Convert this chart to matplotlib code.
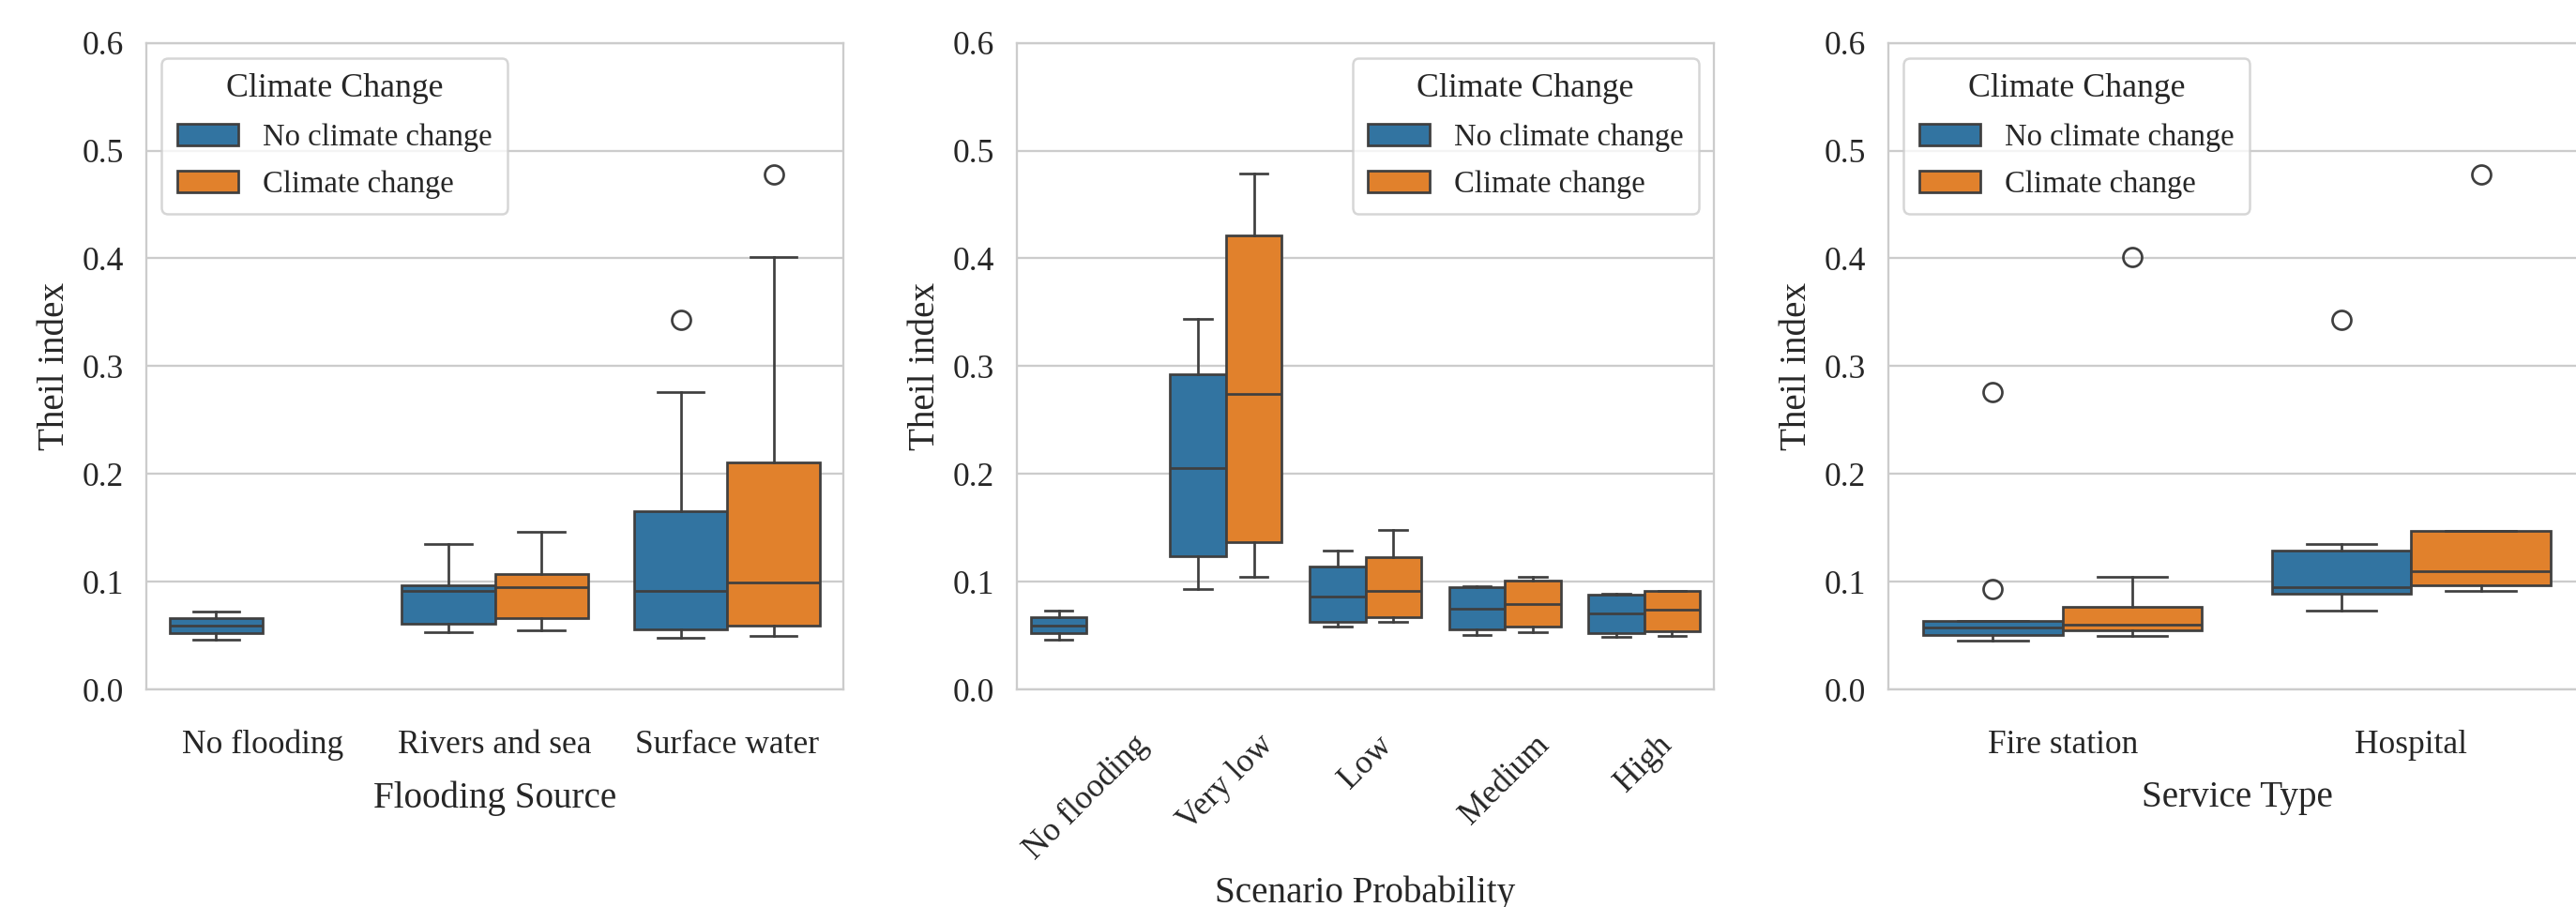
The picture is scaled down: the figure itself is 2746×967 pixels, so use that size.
import matplotlib
matplotlib.use('Agg')
import matplotlib.pyplot as plt
from matplotlib.patches import Patch
import numpy as np

nan = np.nan

# --- Flooding Source ---
flood_cats = ["No flooding", "Rivers and sea", "Surface water"]
flood_nocc_lo = [0.046, 0.0535, 0.048]
flood_nocc_q1 = [0.052, 0.061, 0.056]
flood_nocc_med = [0.059, 0.0915, 0.091]
flood_nocc_q3 = [0.066, 0.097, 0.1655]
flood_nocc_hi = [0.0725, 0.135, 0.276]
flood_nocc_fl = [[], [], [0.343]]
flood_cc_lo = [nan, 0.055, 0.0495]
flood_cc_q1 = [nan, 0.066, 0.059]
flood_cc_med = [nan, 0.095, 0.099]
flood_cc_q3 = [nan, 0.107, 0.211]
flood_cc_hi = [nan, 0.1465, 0.401]
flood_cc_fl = [[], [], [0.478]]

# --- Scenario Probability ---
prob_cats = ["No flooding", "Very low", "Low", "Medium", "High"]
prob_nocc_lo = [0.046, 0.0935, 0.0585, 0.0505, 0.0489]
prob_nocc_q1 = [0.052, 0.124, 0.0623, 0.0553, 0.052]
prob_nocc_med = [0.059, 0.205, 0.086, 0.0752, 0.0704]
prob_nocc_q3 = [0.0666, 0.2927, 0.1139, 0.0945, 0.088]
prob_nocc_hi = [0.073, 0.3437, 0.129, 0.0956, 0.0886]
prob_nocc_fl = [[], [], [], [], []]
prob_cc_lo = [nan, 0.1047, 0.0623, 0.0532, 0.05]
prob_cc_q1 = [nan, 0.1364, 0.0666, 0.058, 0.0537]
prob_cc_med = [nan, 0.2744, 0.0918, 0.079, 0.0736]
prob_cc_q3 = [nan, 0.421, 0.123, 0.101, 0.0913]
prob_cc_hi = [nan, 0.4785, 0.148, 0.1047, 0.0918]
prob_cc_fl = [[], [], [], [], []]

# --- Service Type ---
serv_cats = ["Fire station", "Hospital"]
serv_nocc_lo = [0.0455, 0.073]
serv_nocc_q1 = [0.0502, 0.0885]
serv_nocc_med = [0.0572, 0.095]
serv_nocc_q3 = [0.0638, 0.129]
serv_nocc_hi = [0.0638, 0.135]
serv_nocc_fl = [[0.0929, 0.276], [0.343]]
serv_cc_lo = [0.0495, 0.091]
serv_cc_q1 = [0.0545, 0.097]
serv_cc_med = [0.060, 0.110]
serv_cc_q3 = [0.077, 0.147]
serv_cc_hi = [0.1045, 0.1475]
serv_cc_fl = [[0.401], [0.478]]

hue_labels = ["No climate change", "Climate change"]
colors = ["#3274a1", "#e1812c"]
line_c = "#3f3f3f"
text_c = "#262626"

plt.rcParams['font.family'] = ['Liberation Serif', 'DejaVu Serif']
plt.rcParams['text.color'] = text_c
plt.rcParams['axes.labelcolor'] = text_c
plt.rcParams['xtick.color'] = text_c
plt.rcParams['ytick.color'] = text_c

W, H = 2746, 967
fig = plt.figure(figsize=(W / 300, H / 300), dpi=300)


def make_stats(lo, q1, med, q3, hi, fl):
    out = []
    for i in range(len(lo)):
        if np.isnan(lo[i]):
            out.append(None)
        else:
            out.append(dict(whislo=lo[i], q1=q1[i], med=med[i], q3=q3[i],
                            whishi=hi[i], fliers=fl[i]))
    return out


def draw_panel(ax, cats, groups, xlabel, loc, rot, xpad=5):
    lw = 0.65
    for j, stats in enumerate(groups):
        for i, st in enumerate(stats):
            if st is None:
                continue
            pos = i + (j - 0.5) * 0.4
            ax.bxp([st], positions=[pos], widths=0.4, patch_artist=True,
                   showfliers=True,
                   boxprops=dict(facecolor=colors[j], edgecolor=line_c, linewidth=lw),
                   medianprops=dict(color=line_c, linewidth=lw),
                   whiskerprops=dict(color=line_c, linewidth=lw),
                   capprops=dict(color=line_c, linewidth=lw),
                   flierprops=dict(marker='o', markersize=4.8, markerfacecolor='none',
                                   markeredgecolor=line_c, markeredgewidth=lw),
                   manage_ticks=False, zorder=3)
    ax.set_xlim(-0.5, len(cats) - 0.5)
    ax.set_ylim(0, 0.6)
    ax.set_yticks(np.arange(0, 0.61, 0.1))
    ax.set_yticklabels([f"{v:.1f}" for v in np.arange(0, 0.61, 0.1)])
    ax.set_xticks(range(len(cats)))
    ax.set_xticklabels(cats, rotation=rot)
    ax.tick_params(axis='x', length=0, pad=10.3, labelsize=8.5)
    ax.tick_params(axis='y', length=0, pad=5.8, labelsize=8.5)
    ax.grid(axis='y', color='#cccccc', linewidth=0.55, zorder=0)
    ax.set_axisbelow(True)
    for s in ax.spines.values():
        s.set_color('#cccccc')
        s.set_linewidth(0.55)
    ax.set_xlabel(xlabel, fontsize=9.4, labelpad=xpad)
    ax.set_ylabel("Theil index", fontsize=9.4, labelpad=2.5)
    handles = [Patch(facecolor=colors[k], edgecolor=line_c, linewidth=0.65, label=hue_labels[k])
               for k in range(2)]
    leg = ax.legend(handles=handles, title="Climate Change", loc=loc,
                    fontsize=7.85, title_fontsize=8.6, fancybox=True, framealpha=0.8,
                    labelspacing=0.6, borderpad=0.5)
    leg.get_frame().set_edgecolor('#cccccc')
    leg.get_frame().set_linewidth(0.6)


bottom = (H - 735) / H
height = 689.3 / H
width = 743 / W

ax1 = fig.add_axes([156 / W, bottom, width, height])
ax2 = fig.add_axes([1084 / W, bottom, width, height])
ax3 = fig.add_axes([2013 / W, bottom, width, height])

draw_panel(ax1, flood_cats,
           [make_stats(flood_nocc_lo, flood_nocc_q1, flood_nocc_med, flood_nocc_q3, flood_nocc_hi, flood_nocc_fl),
            make_stats(flood_cc_lo, flood_cc_q1, flood_cc_med, flood_cc_q3, flood_cc_hi, flood_cc_fl)],
           "Flooding Source", "upper left", 0)
draw_panel(ax2, prob_cats,
           [make_stats(prob_nocc_lo, prob_nocc_q1, prob_nocc_med, prob_nocc_q3, prob_nocc_hi, prob_nocc_fl),
            make_stats(prob_cc_lo, prob_cc_q1, prob_cc_med, prob_cc_q3, prob_cc_hi, prob_cc_fl)],
           "Scenario Probability", "upper right", 45, xpad=2.5)
draw_panel(ax3, serv_cats,
           [make_stats(serv_nocc_lo, serv_nocc_q1, serv_nocc_med, serv_nocc_q3, serv_nocc_hi, serv_nocc_fl),
            make_stats(serv_cc_lo, serv_cc_q1, serv_cc_med, serv_cc_q3, serv_cc_hi, serv_cc_fl)],
           "Service Type", "upper left", 0)

fig.savefig("out.png", dpi=300)
